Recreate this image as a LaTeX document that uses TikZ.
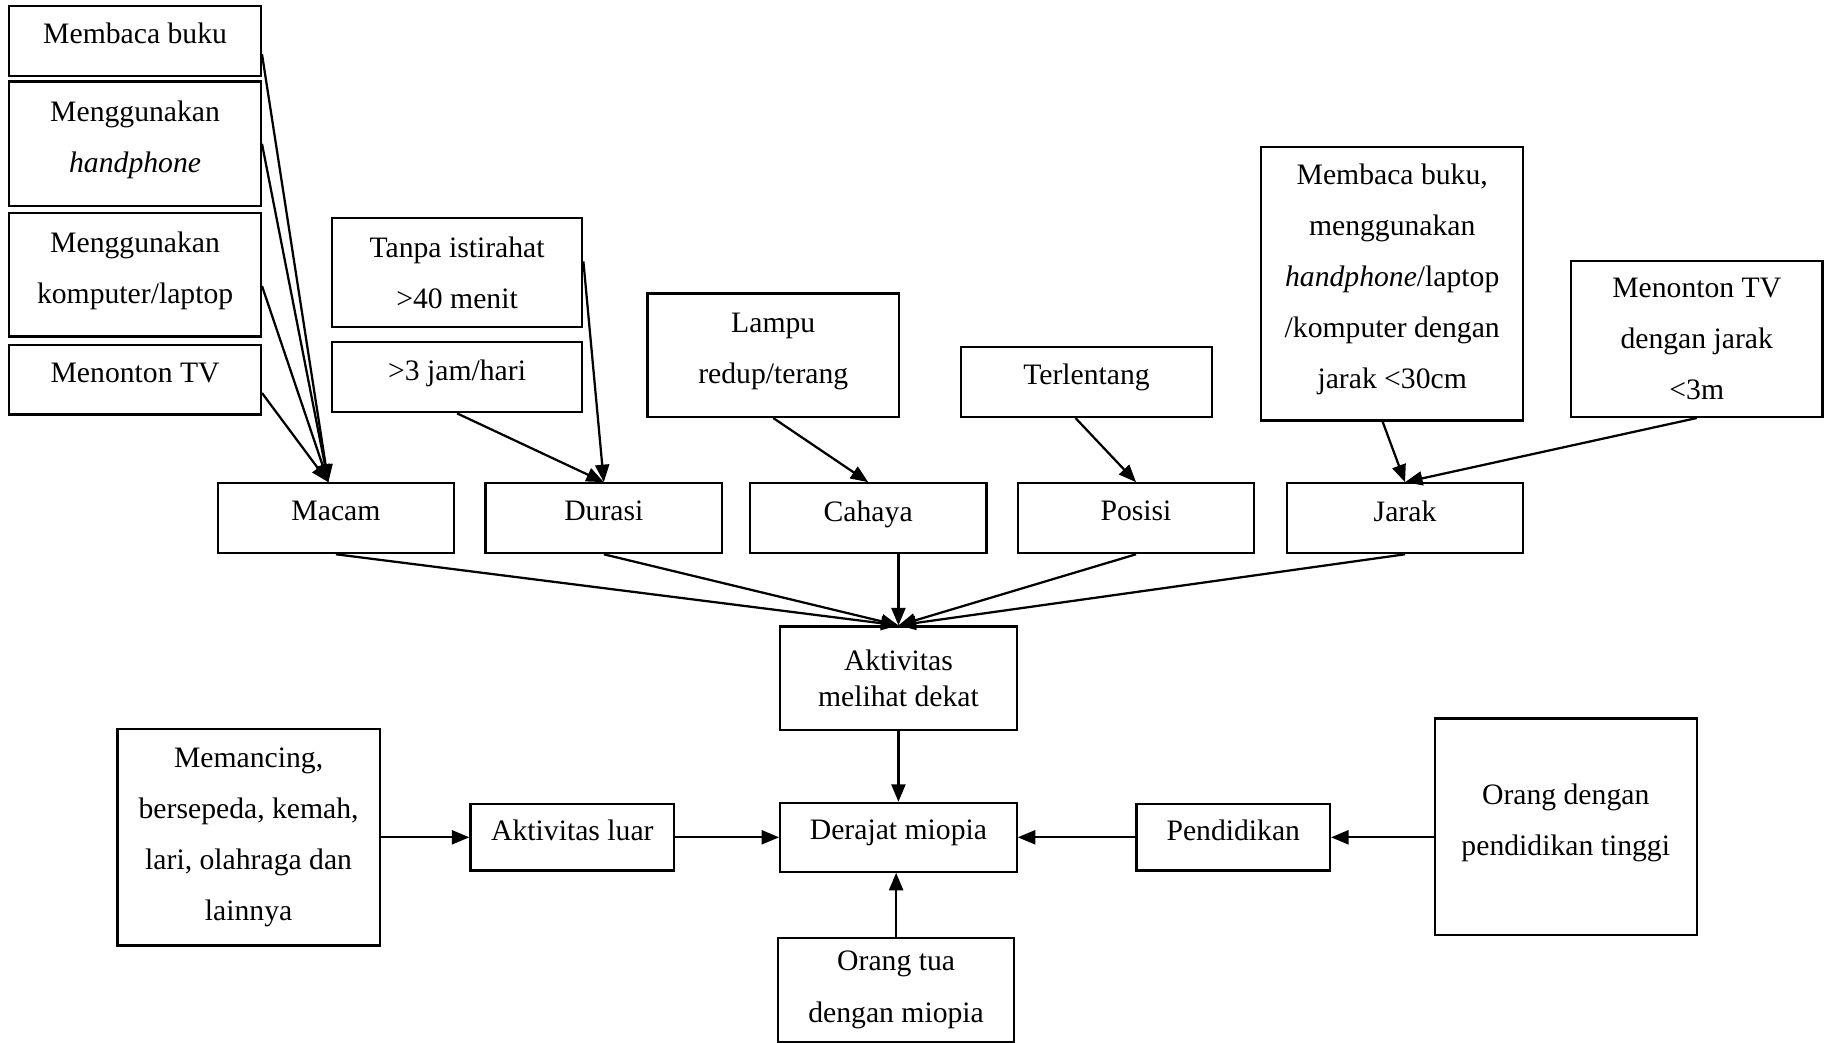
\documentclass[tikz,border=0pt]{standalone}
\usepackage{fontspec}
\setmainfont{Liberation Serif}
\usetikzlibrary{arrows.meta, calc}

\begin{document}
\begin{tikzpicture}[x=0.2mm, y=-0.2mm,
        box/.style={rectangle, draw=black, line width=1.1pt, fill=white, inner sep=0pt, align=center, font=\fontsize{14.5}{25}\selectfont},
        lift/.style={execute at end node={\rule[-2.5mm]{0pt}{2.5mm}}},
        drop/.style={execute at begin node={\rule{0pt}{5.2mm}}},
        leaf/.style={box, lift, minimum width=43.2mm, minimum height=12mm},
        factor/.style={box, lift, minimum width=40.6mm, minimum height=12mm},
        arrow/.style={-{Triangle[length=3mm, width=2.4mm]}, line width=1.1pt, draw=black}
    ]
        \useasboundingbox (0,0) rectangle (1568,895);

        % ROW 0: Macam sources
        \node[leaf] (buku) at (116, 35) {Membaca buku};
        \node[leaf, minimum height=21.4mm] (hp) at (116, 123.5) {Menggunakan\\\textit{handphone}};
        \node[leaf, minimum height=21.2mm] (komp) at (116, 236) {Menggunakan\\komputer/laptop};
        \node[leaf] (tv) at (116, 326) {Menonton TV};

        % ROW 0: other sources
        \node[box, minimum width=43mm, minimum height=18.8mm] (istirahat) at (392.5, 234) {Tanpa istirahat\\>40 menit};
        \node[leaf, minimum width=43mm] (jam) at (392.5, 324) {>3 jam/hari};
        \node[leaf, minimum height=21.2mm] (lampu) at (664, 305) {Lampu\\redup/terang};
        \node[leaf] (terlentang) at (933, 328) {Terlentang};
        \node[leaf, minimum width=45mm, minimum height=47mm] (bacajarak) at (1195.5, 243.5) {Membaca buku,\\menggunakan\\\textit{handphone}/laptop\\/komputer dengan\\jarak <30cm};
        \node[box, minimum width=43.2mm, minimum height=26.8mm] (tvjarak) at (1457, 291) {Menonton TV\\dengan jarak\\<3m};

        % ROW 1: Factors
        \node[factor] (macam) at (288.5, 445) {Macam};
        \node[factor] (durasi) at (518.5, 445) {Durasi};
        \node[factor] (cahaya) at (745.5, 445) {Cahaya};
        \node[factor] (posisi) at (975.5, 445) {Posisi};
        \node[factor] (jarak) at (1206.5, 445) {Jarak};

        % ROW 2: Near work
        \node[box, minimum width=40.6mm, minimum height=17.8mm, font=\fontsize{14.5}{17.6}\selectfont] (dekat) at (771.5, 582.5) {Aktivitas\\melihat dekat};

        % ROW 3: Outcome and other causes
        \node[factor, minimum height=11.8mm] (derajat) at (771.5, 719) {Derajat miopia};
        \node[box, lift, minimum width=35mm, minimum height=11.4mm] (luar) at (491.5, 719) {Aktivitas luar};
        \node[box, minimum width=45mm, minimum height=37.2mm] (memancing) at (213.5, 719) {Memancing,\\bersepeda, kemah,\\lari, olahraga dan\\lainnya};
        \node[box, lift, minimum width=33.2mm, minimum height=11.4mm] (pendidikan) at (1059, 719) {Pendidikan};
        \node[box, lift, minimum width=45mm, minimum height=37.2mm] (tinggi) at (1344.5, 710) {Orang dengan\\pendidikan tinggi};

        % ROW 4: Bottom
        \node[box, drop, minimum width=40.6mm, minimum height=17.8mm] (ortu) at (769.5, 850) {Orang tua\\dengan miopia};

        % Sources to factors
        \draw[arrow] (buku.-6) -- (macam.102);
        \draw[arrow] (hp.east) -- (macam.102);
        \draw[arrow] (komp.-5) -- (macam.102);
        \draw[arrow] (tv.-6) -- (macam.102);
        \draw[arrow] (istirahat.5) -- (durasi.north);
        \draw[arrow] (jam.south) -- (durasi.north);
        \draw[arrow] (lampu.south) -- (cahaya.north);
        \draw[arrow] (terlentang.-107) -- (posisi.north);
        \draw[arrow] (bacajarak.-94) -- (jarak.north);
        \draw[arrow] (tvjarak.south) -- (jarak.north);

        % Factors to near work
        \draw[arrow] (macam.south) -- (dekat.north);
        \draw[arrow] (durasi.south) -- (dekat.north);
        \draw[arrow] (cahaya.south -| dekat.north) -- (dekat.north);
        \draw[arrow] (posisi.south) -- (dekat.north);
        \draw[arrow] (jarak.south) -- (dekat.north);

        % Into Derajat miopia
        \draw[arrow] (dekat) -- (derajat);
        \draw[arrow] (memancing) -- (luar);
        \draw[arrow] (luar) -- (derajat);
        \draw[arrow] (tinggi.west |- pendidikan) -- (pendidikan);
        \draw[arrow] (pendidikan) -- (derajat);
        \draw[arrow] (ortu.north) -- (ortu.north |- derajat.south);
    \end{tikzpicture}
\end{document}
